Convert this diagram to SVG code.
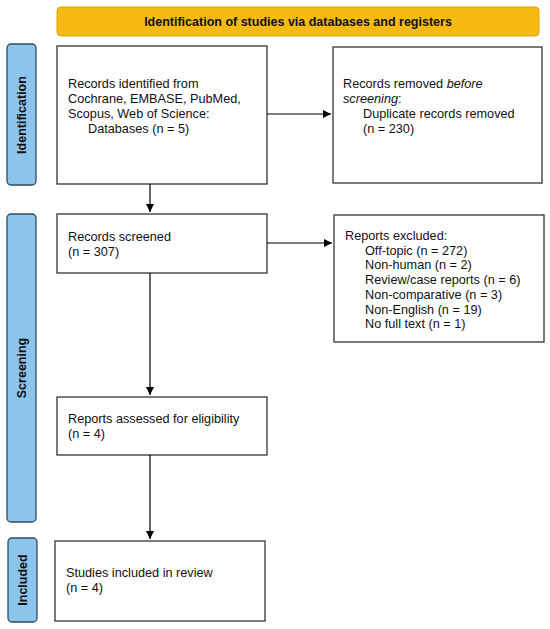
<svg xmlns="http://www.w3.org/2000/svg" width="550" height="629" viewBox="0 0 550 629">
<defs>
<marker id="ah" markerWidth="10" markerHeight="10" refX="8" refY="4" orient="auto" markerUnits="userSpaceOnUse">
<path d="M0,0 L8,4 L0,8 Z" fill="#000"/>
</marker>
<style>
.box{fill:#fff;stroke:#333;stroke-width:1.3}
.side{fill:#8CC4EC;stroke:#2E4A60;stroke-width:1.3}
.banner{fill:#F7BA12;stroke:#E2A400;stroke-width:1}
.t{font-family:"Liberation Sans",Arial,sans-serif;font-size:12.7px;fill:#111}
.b{font-family:"Liberation Sans",Arial,sans-serif;font-size:12.5px;font-weight:bold;fill:#111}
.c{stroke:#000;stroke-width:1.2;fill:none;marker-end:url(#ah)}
</style>
</defs>
<rect width="550" height="629" fill="#fff"/>
<g id="banner">
<rect class="banner" x="57" y="7" width="482" height="29" rx="4"/>
<text class="b" x="298" y="26" text-anchor="middle">Identification of studies via databases and registers</text>
</g>
<g id="side-identification">
<rect class="side" x="7" y="44" width="29" height="141" rx="4"/>
<text class="b" transform="translate(26,115) rotate(-90)" text-anchor="middle">Identification</text>
</g>
<g id="side-screening">
<rect class="side" x="7" y="214" width="29" height="308" rx="4"/>
<text class="b" transform="translate(26,368) rotate(-90)" text-anchor="middle">Screening</text>
</g>
<g id="side-included">
<rect class="side" x="8" y="538" width="29" height="84" rx="4"/>
<text class="b" transform="translate(27,580) rotate(-90)" text-anchor="middle">Included</text>
</g>
<g id="records-identified">
<rect class="box" x="57" y="46" width="210" height="138"/>
<text class="t" x="68" y="88">Records identified from</text>
<text class="t" x="68" y="103">Cochrane, EMBASE, PubMed,</text>
<text class="t" x="68" y="118">Scopus, Web of Science:</text>
<text class="t" x="88" y="133">Databases (n = 5)</text>
</g>
<g id="records-removed">
<rect class="box" x="333" y="47" width="209" height="136"/>
<text class="t" x="343" y="88">Records removed <tspan font-style="italic">before</tspan></text>
<text class="t" x="343" y="103"><tspan font-style="italic">screening</tspan>:</text>
<text class="t" x="363" y="118">Duplicate records removed</text>
<text class="t" x="363" y="133">(n = 230)</text>
</g>
<g id="records-screened">
<rect class="box" x="57" y="214" width="210" height="59"/>
<text class="t" x="68" y="241">Records screened</text>
<text class="t" x="68" y="256">(n = 307)</text>
</g>
<g id="reports-excluded">
<rect class="box" x="334" y="215" width="210" height="127"/>
<text class="t" x="345" y="240">Reports excluded:</text>
<text class="t" x="365" y="254.7">Off-topic (n = 272)</text>
<text class="t" x="365" y="269.4">Non-human (n = 2)</text>
<text class="t" x="365" y="284.1">Review/case reports (n = 6)</text>
<text class="t" x="365" y="298.8">Non-comparative (n = 3)</text>
<text class="t" x="365" y="313.5">Non-English (n = 19)</text>
<text class="t" x="365" y="328.2">No full text (n = 1)</text>
</g>
<g id="reports-assessed">
<rect class="box" x="57" y="397" width="210" height="58"/>
<text class="t" x="68" y="423">Reports assessed for eligibility</text>
<text class="t" x="68" y="438">(n = 4)</text>
</g>
<g id="studies-included">
<rect class="box" x="55" y="541" width="210" height="80"/>
<text class="t" x="66" y="577">Studies included in review</text>
<text class="t" x="66" y="592">(n = 4)</text>
</g>
<g id="connectors">
<path class="c" d="M267,114 H331"/>
<path class="c" d="M150,184 V212"/>
<path class="c" d="M267,243 H332"/>
<path class="c" d="M150,273 V395"/>
<path class="c" d="M150,455 V539"/>
</g>
</svg>
